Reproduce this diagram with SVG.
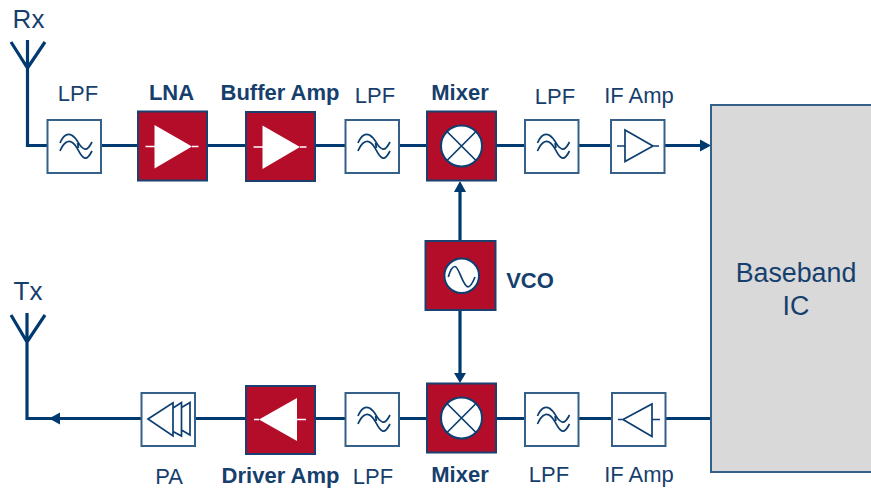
<svg xmlns="http://www.w3.org/2000/svg" width="871" height="488" viewBox="0 0 871 488">
<style>
text{font-family:"Liberation Sans",Arial,sans-serif;font-size:22px;fill:#173f6d;text-anchor:middle}
.b{font-weight:bold}
.big{font-size:26px}
.bb{font-size:26.800px}
.w{stroke:#003a70;stroke-width:3.2;fill:none}
.wf{fill:#003a70;stroke:none}
.box{fill:#fff;stroke:#356089;stroke-width:2}
.red{fill:#b30d29;stroke:#1b4070;stroke-width:2}
.g{stroke:#0c3f70;stroke-width:1.700;fill:none}
.ci{fill:#fff;stroke:#0c3f70;stroke-width:2}
.wt{fill:#fff;stroke:none}
.wl{stroke:#fff;stroke-width:1.500;fill:none}
</style>
<defs>
<g id="lpf">
<rect class="box" x="0" y="0" width="53.500" height="53"/>
<path class="g" d="M12.500 23C16 15 20 13 24 15C31 19 31 27 37 29C40 30 42 27 44.500 22M12.500 31C16 23 20 20 24 22C31 26 31 35 37 38C40 39 42 36 44.500 31M30 23L31 28"/>
</g>
<g id="mix">
<rect class="red" x="0" y="0" width="69" height="69"/>
<circle class="ci" cx="34.500" cy="34.500" r="20.500"/>
<path class="g" d="M20 20L49 49M49 20L20 49"/>
</g>
<g id="amp">
<rect class="red" x="0" y="0" width="69" height="69"/>
<path class="wt" d="M16.500 13.500L54 35L16.500 57Z"/>
<path class="wl" d="M7.500 35H17M54 35H60.500"/>
</g>
</defs>
<g id="connectors">
<path class="w" d="M11 42L27.500 68L45 42M27.500 40V145.500H47.500"/>
<path class="w" d="M101 145.500H137.500M207 145.500H246M315 145.500H345.500M399 145.500H427M496 145.500H525M578.500 145.500H611M664 145.500H702"/>
<path class="wf" d="M700 139.500L711 145.500L700 151.500Z"/>
<path class="w" d="M460 241V190"/>
<path class="wf" d="M454 192L460 181L466 192Z"/>
<path class="w" d="M460 310V375"/>
<path class="wf" d="M454 373L460 383L466 373Z"/>
<path class="w" d="M11 315L27 342L45 315M27 313V418.500H60"/>
<path class="wf" d="M60 412.500L49 418.500L60 424.500Z"/>
<path class="w" d="M58 418.500H141.500M195 418.500H246M315 418.500H345.500M399 418.500H427M496 418.500H525M579 418.500H612M665 418.500H711"/>
</g>
<g id="rx-label"><text class="big" x="28.500" y="28">Rx</text></g>
<g id="tx-label"><text class="big" x="28" y="300">Tx</text></g>
<g id="lpf1"><use href="#lpf" x="47.500" y="120"/><text x="78" y="101">LPF</text></g>
<g id="lna"><use href="#amp" x="138" y="111.500"/><text class="b" x="171.500" y="100">LNA</text></g>
<g id="buffer-amp"><use href="#amp" x="246" y="112"/><text class="b" x="280" y="100">Buffer Amp</text></g>
<g id="lpf2"><use href="#lpf" x="345.500" y="120"/><text x="375" y="103">LPF</text></g>
<g id="mixer-top"><use href="#mix" x="427" y="111.500"/><text class="b" x="460" y="100">Mixer</text></g>
<g id="lpf3"><use href="#lpf" x="525" y="120"/><text x="555" y="104">LPF</text></g>
<g id="if-amp-top">
<rect class="box" x="611" y="120" width="53.500" height="53"/>
<path class="g" d="M625 130V161.500L653 146ZM617 146H625M653 146H659"/>
<text x="639" y="103">IF Amp</text>
</g>
<g id="baseband">
<rect x="711" y="105" width="170" height="367" fill="#d9d9d9" stroke="#356089" stroke-width="2"/>
<text class="bb" x="796" y="282">Baseband</text>
<text class="bb" x="796" y="315">IC</text>
</g>
<g id="vco">
<rect class="red" x="425.500" y="241" width="70" height="69"/>
<circle class="ci" cx="461.700" cy="275.700" r="17.300"/>
<path class="g" d="M448.300 277C450 271 452 266.500 455 266.500C459 266.500 463 286.800 468 286.800C471 286.800 473 282 475 277"/>
<text class="b" x="530" y="288">VCO</text>
</g>
<g id="pa">
<rect class="box" x="141.500" y="393" width="53.500" height="53"/>
<path class="g" d="M148 419L173 402.700V436ZM173 408L181.500 402.500V436L173 431.500M181.500 407.500L190 402.500V435L181.500 430"/>
<text x="169" y="484">PA</text>
</g>
<g id="driver-amp">
<rect class="red" x="246" y="386" width="69" height="68"/>
<path class="wt" d="M297 398V441L259 419.500Z"/>
<path class="wl" d="M254 419.500H259M297 419.500H306"/>
<text class="b" x="280.500" y="483">Driver Amp</text>
</g>
<g id="lpf4"><use href="#lpf" x="345.500" y="393"/><text x="373" y="484">LPF</text></g>
<g id="mixer-bottom"><use href="#mix" x="427" y="383.500"/><text class="b" x="460" y="482">Mixer</text></g>
<g id="lpf5"><use href="#lpf" x="525" y="393"/><text x="549" y="482">LPF</text></g>
<g id="if-amp-bottom">
<rect class="box" x="612" y="393" width="53.500" height="53"/>
<path class="g" d="M652 404V436.500L623 419.500ZM618 419.500H623M652 419.500H660"/>
<text x="639" y="482">IF Amp</text>
</g>
</svg>
